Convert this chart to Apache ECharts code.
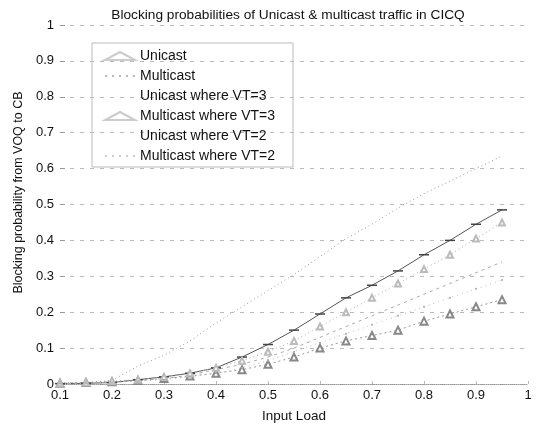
<!DOCTYPE html>
<html>
<head>
<meta charset="utf-8">
<script src="https://cdn.jsdelivr.net/npm/echarts@6/dist/echarts.min.js"></script>
<style>
html,body{margin:0;padding:0;background:#fff;}
#chart{width:541px;height:428px;}
</style>
</head>
<body>
<div id="chart"></div>
<script>
// ---- data ----
var inputLoad = [0.1,0.15,0.2,0.25,0.3,0.35,0.4,0.45,0.5,0.55,0.6,0.65,0.7,0.75,0.8,0.85,0.9,0.95];
var unicast = [0.002,0.004,0.006,0.01,0.015,0.022,0.03,0.04,0.055,0.075,0.1,0.12,0.135,0.15,0.175,0.195,0.215,0.235];
var multicast = [0.002,0.004,0.01,0.05,0.08,0.12,0.17,0.215,0.26,0.305,0.355,0.405,0.445,0.49,0.53,0.565,0.6,0.635];
var unicastVT3 = [0.001,0.002,0.004,0.012,0.02,0.03,0.045,0.075,0.11,0.15,0.195,0.24,0.275,0.315,0.36,0.4,0.445,0.485];
var multicastVT3 = [0.002,0.004,0.008,0.012,0.02,0.03,0.045,0.065,0.09,0.12,0.16,0.2,0.24,0.28,0.32,0.36,0.405,0.45];
var unicastVT2 = [0.001,0.003,0.005,0.01,0.015,0.025,0.04,0.055,0.075,0.1,0.13,0.16,0.19,0.22,0.25,0.28,0.31,0.34];
var multicastVT2 = [0.001,0.002,0.004,0.008,0.012,0.02,0.03,0.045,0.065,0.09,0.115,0.14,0.165,0.19,0.215,0.24,0.265,0.29];
var seriesNames = ['Unicast','Multicast','Unicast where VT=3','Multicast where VT=3','Unicast where VT=2','Multicast where VT=2'];

function pairs(ys){ return inputLoad.map(function(x,i){ return [x, ys[i]]; }); }

var FONT = 'Liberation Sans, Arial, sans-serif';
var chart = echarts.init(document.getElementById('chart'), null, {renderer:'canvas'});

var dash = 'path://M0,0L10,0L10,1L0,1Z';
var dots = 'path://M0,0h1.5v1.5h-1.5zM5,0h1.5v1.5h-1.5zM10,0h1.5v1.5h-1.5zM15,0h1.5v1.5h-1.5zM20,0h1.5v1.5h-1.5z';
var blank = 'path://M0,0L1,0L1,1L0,1Z';

var option = {
  animation: false,
  backgroundColor: '#fff',
  textStyle: {fontFamily: FONT},
  title: {
    text: 'Blocking probabilities of Unicast & multicast traffic in CICQ',
    left: 283, top: 3, textAlign: 'center',
    textStyle: {fontFamily: FONT, fontSize: 13.7, fontWeight: 'normal', color: '#111'}
  },
  grid: {left: 60, right: 13, top: 25, bottom: 40, containLabel: false},
  legend: {
    orient: 'vertical', left: 92, top: 43,
    itemWidth: 30, itemHeight: 8, itemGap: 6,
    padding: [6, 18, 4, 12],
    borderColor: '#bbb', borderWidth: 1,
    textStyle: {fontFamily: FONT, fontSize: 14, color: '#111'},
    data: [
      {name: seriesNames[0], icon: 'emptyTriangle', itemStyle: {color: '#ccc', borderColor: '#ccc', borderWidth: 1}},
      {name: seriesNames[1], icon: dots, itemStyle: {color: '#bbb'}},
      {name: seriesNames[2], icon: blank, itemStyle: {color: '#fff', opacity: 0}},
      {name: seriesNames[3], icon: 'emptyTriangle', itemStyle: {color: '#ccc', borderColor: '#ccc', borderWidth: 1}},
      {name: seriesNames[4], icon: blank, itemStyle: {color: '#fff', opacity: 0}},
      {name: seriesNames[5], icon: dots, itemStyle: {color: '#ccc'}}
    ]
  },
  xAxis: {
    type: 'value', min: 0.1, max: 1, interval: 0.1,
    name: 'Input Load', nameLocation: 'middle', nameGap: 25,
    nameTextStyle: {fontFamily: FONT, fontSize: 13.5, color: '#111'},
    axisLine: {show: true, lineStyle: {color: '#999', type: 'dotted', width: 1}},
    axisTick: {show: true, inside: true, length: 3, lineStyle: {color: '#bbb'}},
    axisLabel: {fontFamily: FONT, fontSize: 13, color: '#111', margin: 5,
      formatter: function(v){ return String(Math.round(v*10)/10); }},
    splitLine: {show: false}
  },
  yAxis: {
    type: 'value', min: 0, max: 1, interval: 0.1,
    name: 'Blocking probability from VOQ to CB', nameLocation: 'middle', nameGap: 34,
    nameTextStyle: {fontFamily: FONT, fontSize: 12.5, color: '#111', padding: [0, 0, 0, 24]},
    axisLine: {show: false},
    axisTick: {show: true, inside: true, length: 5, lineStyle: {color: '#999'}},
    axisLabel: {fontFamily: FONT, fontSize: 13, color: '#111', margin: 6,
      formatter: function(v){ return String(Math.round(v*10)/10); }},
    splitLine: {show: true, lineStyle: {color: '#bbb', type: [4, 6], width: 1}}
  },
  series: [
    {name: seriesNames[0], type: 'line', data: pairs(unicast),
     symbol: 'emptyTriangle', symbolSize: 7,
     itemStyle: {color: '#888'}, lineStyle: {color: '#999', width: 1, type: [2, 3]}},
    {name: seriesNames[1], type: 'line', data: pairs(multicast),
     symbol: 'none', itemStyle: {color: '#999'},
     lineStyle: {color: '#999', width: 1, type: [1, 3]}},
    {name: seriesNames[2], type: 'line', data: pairs(unicastVT3),
     symbol: dash, symbolSize: [10, 1.5],
     itemStyle: {color: '#444'}, lineStyle: {color: '#555', width: 1, type: 'solid'}},
    {name: seriesNames[3], type: 'line', data: pairs(multicastVT3),
     symbol: 'emptyTriangle', symbolSize: 6,
     itemStyle: {color: '#bbb'}, lineStyle: {color: '#aaa', width: 1, type: [1, 3]}},
    {name: seriesNames[4], type: 'line', data: pairs(unicastVT2),
     symbol: 'none', itemStyle: {color: '#aaa'},
     lineStyle: {color: '#aaa', width: 1, type: [3, 4]}},
    {name: seriesNames[5], type: 'line', data: pairs(multicastVT2),
     symbol: 'circle', symbolSize: 2,
     itemStyle: {color: '#aaa'}, lineStyle: {color: '#bbb', width: 1, type: [1, 4]}}
  ]
};
chart.setOption(option);
</script>
</body>
</html>
